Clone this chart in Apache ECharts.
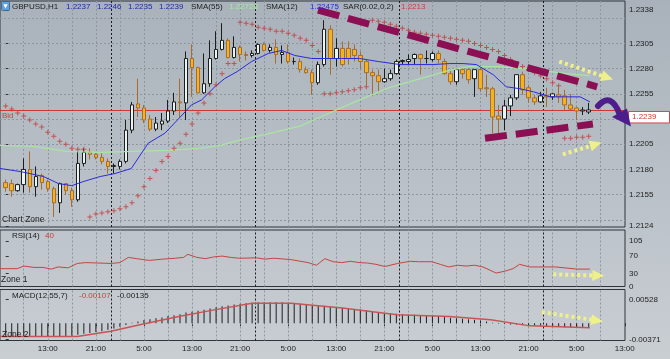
<!DOCTYPE html>
<html><head><meta charset="utf-8">
<script src="https://cdn.jsdelivr.net/npm/echarts@6/dist/echarts.min.js"></script>
<style>html,body{margin:0;padding:0;background:#b9c0c7;}#c{width:670px;height:359px;}</style>
</head><body><div id="c"></div>
<script>
// ---- OHLC (H1 bars, index 0 = 06:00 of day 1) ----
const barOpen = [1.2167,1.2166,1.2159,1.2165,1.2180,1.2163,1.2174,1.2168,1.2161,1.2147,
1.2166,1.2159,1.2150,1.2186,1.2197,1.2195,1.2192,1.2188,1.2183,1.2183,
1.2188,1.2219,1.2245,1.2241,1.2230,1.2220,1.2225,1.2228,1.2238,1.2247,
1.2246,1.2290,1.2281,1.2256,1.2265,1.2290,1.2299,1.2308,1.2291,1.2301,
1.2294,1.2293,1.2295,1.2304,1.2298,1.2301,1.2294,1.2296,1.2287,1.2287,
1.2279,1.2276,1.2266,1.2284,1.2319,1.2290,1.2300,1.2300,1.2299,1.2293,
1.2287,1.2276,1.2273,1.2267,1.2270,1.2275,1.2287,1.2287,1.2290,1.2294,
1.2290,1.2289,1.2295,1.2287,1.2275,1.2267,1.2279,1.2279,1.2270,1.2279,
1.2261,1.2260,1.2233,1.2230,1.2243,1.2251,1.2274,1.2261,1.2251,1.2247,
1.2253,1.2252,1.2254,1.2253,1.2244,1.2241,1.2238,1.2237];
const barHigh = [1.2170,1.2170,1.2166,1.2191,1.2198,1.2183,1.2176,1.2170,1.2163,1.2167,
1.2166,1.2162,1.2198,1.2201,1.2201,1.2196,1.2196,1.2191,1.2186,1.2190,
1.2229,1.2247,1.2270,1.2244,1.2234,1.2232,1.2236,1.2249,1.2256,1.2270,
1.2297,1.2304,1.2282,1.2295,1.2308,1.2317,1.2325,1.2310,1.2312,1.2303,
1.2297,1.2298,1.2305,1.2306,1.2304,1.2309,1.2303,1.2304,1.2291,1.2290,
1.2282,1.2279,1.2287,1.2328,1.2323,1.2310,1.2307,1.2307,1.2304,1.2297,
1.2289,1.2279,1.2279,1.2280,1.2279,1.2289,1.2289,1.2294,1.2295,1.2295,
1.2298,1.2297,1.2298,1.2290,1.2279,1.2280,1.2281,1.2280,1.2279,1.2282,
1.2274,1.2262,1.2244,1.2249,1.2254,1.2274,1.2277,1.2264,1.2254,1.2257,
1.2261,1.2256,1.2261,1.2259,1.2255,1.2242,1.2242,1.2246];
const barLow = [1.2158,1.2153,1.2158,1.2157,1.2157,1.2153,1.2160,1.2158,1.2133,1.2137,
1.2155,1.2143,1.2148,1.2183,1.2190,1.2190,1.2185,1.2176,1.2176,1.2180,
1.2186,1.2216,1.2232,1.2226,1.2218,1.2218,1.2219,1.2226,1.2234,1.2232,
1.2229,1.2252,1.2256,1.2255,1.2262,1.2289,1.2298,1.2290,1.2290,1.2287,
1.2288,1.2291,1.2294,1.2297,1.2296,1.2285,1.2285,1.2285,1.2284,1.2276,
1.2275,1.2254,1.2264,1.2282,1.2274,1.2282,1.2282,1.2284,1.2287,1.2280,
1.2264,1.2253,1.2257,1.2266,1.2268,1.2274,1.2284,1.2284,1.2284,1.2274,
1.2285,1.2287,1.2285,1.2274,1.2264,1.2264,1.2270,1.2265,1.2252,1.2257,
1.2252,1.2216,1.2216,1.2219,1.2233,1.2249,1.2254,1.2246,1.2244,1.2246,
1.2242,1.2249,1.2246,1.2239,1.2239,1.2229,1.2234,1.2235];
const barClose = [1.2162,1.2159,1.2165,1.2180,1.2163,1.2173,1.2167,1.2161,1.2147,1.2166,
1.2159,1.2150,1.2186,1.2197,1.2195,1.2192,1.2188,1.2183,1.2184,1.2188,
1.2219,1.2244,1.2241,1.2229,1.2220,1.2226,1.2228,1.2238,1.2247,1.2246,
1.2290,1.2281,1.2256,1.2265,1.2290,1.2299,1.2308,1.2291,1.2301,1.2294,
1.2293,1.2295,1.2304,1.2298,1.2301,1.2294,1.2296,1.2287,1.2287,1.2279,
1.2276,1.2266,1.2284,1.2319,1.2290,1.2300,1.2284,1.2290,1.2293,1.2287,
1.2276,1.2273,1.2267,1.2270,1.2275,1.2287,1.2288,1.2289,1.2294,1.2290,
1.2290,1.2295,1.2289,1.2275,1.2267,1.2279,1.2275,1.2269,1.2279,1.2260,
1.2260,1.2232,1.2230,1.2243,1.2251,1.2274,1.2259,1.2251,1.2247,1.2253,
1.2252,1.2255,1.2252,1.2244,1.2240,1.2238,1.2239,1.2239];

// ---- indicators: [bar index, value] ----
const sma12 = [[-0.95,1.2181],[2.4,1.2178],[6.3,1.2173],[8.8,1.2166],[11,1.2164],[12.9,1.2168],[15.7,1.2173],[18.2,1.2176],[20.9,1.2181],[23.7,1.2206],[26.5,1.2216],[29.2,1.2233],[30.9,1.2244],[32.6,1.2249],[34.8,1.2262],[36.4,1.2270],[38.5,1.2277],[40.9,1.2287],[43.7,1.2295],[45.9,1.2298],[48.1,1.2293],[50.9,1.2290],[53.1,1.2290],[55.9,1.2290],[58.9,1.2290],[62,1.2287],[65.6,1.2284],[71.1,1.2284],[73.9,1.2285],[76.1,1.2285],[78.3,1.2284],[81.1,1.2274],[83.3,1.2262],[85.6,1.2260],[87.8,1.2257],[90.6,1.2252],[93.4,1.2252],[95.6,1.2252],[97.2,1.2247]];
const sma55 = [[-0.95,1.2204],[4.6,1.2203],[10.1,1.2198],[15.7,1.2197],[21.2,1.2198],[26.8,1.2199],[32.3,1.2201],[35.7,1.2204],[38.9,1.2209],[43.4,1.2215],[49,1.2223],[53.1,1.2234],[58.1,1.2247],[63.7,1.2261],[69,1.2270],[73.6,1.2278],[77,1.2282],[82.2,1.2282],[87.8,1.2279],[93.4,1.2275],[97.2,1.2273]];
const sar = [1.2243,1.2240,1.2236,1.2233,1.2229,1.2225,1.2222,1.2217,1.2213,1.2208,1.2205,1.2201,1.2200,1.2200,
1.2133,1.2136,1.2137,1.2138,1.2139,1.2141,1.2143,1.2147,1.2154,1.2163,1.2171,1.2179,1.2188,1.2193,1.2201,1.2206,1.2215,1.2225,1.2236,1.2246,1.2255,1.2264,1.2275,1.2285,1.2285,
1.2326,1.2325,1.2324,1.2321,1.2320,1.2319,1.2317,1.2317,1.2315,1.2313,1.2310,1.2308,1.2303,1.2297,
1.2255,1.2255,1.2256,1.2257,1.2258,1.2259,1.2261,1.2262,
1.2328,1.2327,1.2326,1.2324,1.2322,1.2320,1.2318,1.2316,1.2315,1.2314,1.2313,1.2312,1.2311,1.2310,1.2309,1.2308,1.2307,1.2305,1.2303,1.2301,1.2299,1.2297,1.2293,1.2289,1.2285,1.2282,1.2279,1.2276,1.2273,1.2270,1.2266,1.2263,
1.2211,1.2211,1.2212,1.2212,1.2213];
const rsi = [[-0.95,41],[1.9,41],[3,47],[4.7,44],[6.2,44],[7.6,40],[8.7,45],[10.4,43],[11.9,53],[13.3,55],[15.4,54],[17.5,53],[19,55],[20.4,67],[21.8,64],[23.9,60],[26.1,63],[28.2,65],[29.6,67],[30.3,74],[31.8,67],[33.2,64],[34.6,68],[36,70],[37.4,67],[38.9,65],[41.7,66],[43.1,63],[44.6,65],[47.4,62],[50.3,55],[51.7,49],[53.1,64],[54.5,57],[55.9,55],[57.4,58],[58.8,55],[60.2,54],[61.6,51],[63.1,46],[65.2,53],[67.3,58],[68.7,57],[70.9,57],[72.3,51],[73.7,45],[75.2,49],[76.6,47],[78,49],[79.4,45],[81.6,31],[83,35],[84.4,41],[85.5,51],[87.2,45],[88.7,45],[90.1,45],[91.5,45],[92.9,43],[95.1,40],[97.2,40]];
const macdHist = [-0.0030,-0.0030,-0.0030,-0.0030,-0.0030,-0.0030,-0.0030,-0.0030,-0.0030,-0.0030,
-0.0029,-0.0028,-0.0026,-0.0024,-0.0022,-0.0020,-0.0018,-0.0015,-0.0012,-0.0008,
-0.0004,0.0001,0.0004,0.0007,0.0009,0.0011,0.0013,0.0016,0.0018,0.0020,
0.0024,0.0026,0.0028,0.0030,0.0033,0.0036,0.0038,0.0040,0.0042,0.0044,
0.0045,0.0046,0.0047,0.0047,0.0047,0.0047,0.0047,0.0046,0.0045,0.0044,
0.0042,0.0040,0.0039,0.0039,0.0037,0.0036,0.0034,0.0033,0.0032,0.0031,
0.0029,0.0027,0.0025,0.0023,0.0022,0.0021,0.0020,0.0019,0.0019,0.0018,
0.0017,0.0017,0.0016,0.0014,0.0012,0.0011,0.0010,0.0009,0.0008,0.0006,
0.0004,0.0001,-0.0001,-0.0002,-0.0003,-0.0003,-0.0004,-0.0005,-0.0006,-0.0006,
-0.0007,-0.0007,-0.0008,-0.0009,-0.0009,-0.0010,-0.0010,-0.0011];
const macdSignal = [[-0.95,-0.0030],[11.9,-0.0030],[17.5,-0.0018],[22.5,-0.0003],[28.8,0.0015],[34.7,0.0030],[41,0.0045],[47.5,0.0045],[56,0.0034],[65.1,0.0019],[73.8,0.0015],[80.7,0.0008],[87.2,-0.0006],[97.2,-0.0010]];
const bidPrice = 1.2239;

// ---- axis ticks / labels ----
const priceLabels = [1.2338,1.2305,1.2280,1.2255,1.2205,1.2180,1.2155,1.2124];
const priceGrid = [1.2330,1.2305,1.2280,1.2255,1.2230,1.2205,1.2180,1.2155,1.2130];
const rsiLabels = [105,70,30,0];
const macdLabels = [0.00528,-0.00371];
const timeTickIdx = [7,15,23,31,39,47,55,63,71,79,87,95,103];
const timeTickLabels = ['13:00','21:00','5:00','13:00','21:00','5:00','13:00','21:00','5:00','13:00','21:00','5:00','13:00'];
const gridIdx = [3,7,11,15,19,23,27,31,35,39,43,47,51,55,59,63,67,71,75,79,83,87,91,95,99];
const daySepIdx = [17.5,41.5,65.5,89.5];

// ---- hand-drawn annotations, in chart coordinates ----
const trendUpper = [[51.96,1.2338],[98.4,1.2262]];
const trendLower = [[79.75,1.2211],[97.7,1.2225]];
const arrowUp = [[92.1,1.2287],[100.1,1.2271]];
const arrowLow = [[92.7,1.2195],[98.2,1.2205]];
const arrowRsi = [[91.1,28],[98.6,25]];
const arrowMacd = [[89.2,0.0025],[98.4,0.0006]];

const FF = "'Liberation Sans', Arial, sans-serif";
const chart = echarts.init(document.getElementById('c'), null, {renderer:'canvas', width:670, height:359});
const X0 = -0.95, X1 = 103.04;
const gridCol = '#8e979f';
const ml = {silent:true, symbol:'none', precision:8, label:{show:false}, animation:false, emphasis:{disabled:true}};
function vLines(){
  return gridIdx.map(v=>({xAxis:v, lineStyle:{color:gridCol, type:[2,2], width:1}}))
    .concat(daySepIdx.map(v=>({xAxis:v, lineStyle:{color:'#1c1c1c', type:[2,2], width:1}})));
}
const axisLbl = {fontSize:8, color:'#1e1e1e', margin:4, fontFamily:FF};
const gridBox = {left:0, width:625, show:true, borderColor:'#2e343a', borderWidth:1, backgroundColor:'transparent'};
const candleData = barOpen.map((o,i)=>[i,o,barClose[i],barLow[i],barHigh[i]]);

const option = {
  animation:false,
  backgroundColor:{type:'linear',x:0,y:0,x2:0,y2:1,colorStops:[{offset:0,color:'#a9b2bb'},{offset:1,color:'#c9ced3'}]},
  grid:[
    Object.assign({top:1, height:226}, gridBox),
    Object.assign({top:230, height:56.5}, gridBox),
    Object.assign({top:289.5, height:51}, gridBox)
  ],
  xAxis:[
    {type:'value', gridIndex:0, min:X0, max:X1, show:false},
    {type:'value', gridIndex:1, min:X0, max:X1, show:false},
    {type:'value', gridIndex:2, min:X0, max:X1, axisLine:{show:false}, splitLine:{show:false},
      axisTick:{show:true, customValues:timeTickIdx, length:3, lineStyle:{color:'#333'}},
      axisLabel:Object.assign({customValues:timeTickIdx, formatter:v=>timeTickLabels[timeTickIdx.indexOf(Math.round(v))]||''}, axisLbl)}
  ],
  yAxis:[
    {type:'value', gridIndex:0, position:'right', min:1.2123, max:1.2347, splitLine:{show:false}, axisLine:{show:false},
      axisTick:{show:true, customValues:priceLabels, length:3, lineStyle:{color:'#333'}},
      axisLabel:Object.assign({customValues:priceLabels, formatter:v=>v.toFixed(4)}, axisLbl)},
    {type:'value', gridIndex:1, position:'right', min:0, max:130, splitLine:{show:false}, axisLine:{show:false},
      axisTick:{show:true, customValues:rsiLabels, length:3, lineStyle:{color:'#333'}},
      axisLabel:Object.assign({customValues:rsiLabels, formatter:v=>String(v)}, axisLbl)},
    {type:'value', gridIndex:2, position:'right', min:-0.00389, max:0.00758, splitLine:{show:false}, axisLine:{show:false},
      axisTick:{show:true, customValues:macdLabels, length:3, lineStyle:{color:'#333'}},
      axisLabel:Object.assign({customValues:macdLabels, formatter:v=>v.toFixed(5)}, axisLbl)}
  ],
  series:[
    {type:'line', xAxisIndex:0, yAxisIndex:0, data:[], markLine:Object.assign({z:1, data:vLines().concat(priceGrid.map(v=>({yAxis:v, lineStyle:{color:gridCol, type:[2,2], width:1}})))}, ml)},
    {type:'line', xAxisIndex:1, yAxisIndex:1, data:[], markLine:Object.assign({z:1, data:vLines()}, ml)},
    {type:'line', xAxisIndex:2, yAxisIndex:2, data:[], markLine:Object.assign({z:1, data:vLines()}, ml)},
    {type:'line', xAxisIndex:0, yAxisIndex:0, data:[], markLine:Object.assign({z:1.5, data:[{yAxis:bidPrice, lineStyle:{color:'#c83a36', type:'solid', width:1}}]}, ml)},
    {type:'candlestick', xAxisIndex:0, yAxisIndex:0, z:2, barWidth:4, data:candleData,
      itemStyle:{color:'#e9f5f4', color0:'#f4b21c', borderColor:'#1d1d1d', borderColor0:'#a86c2e', borderWidth:1}},
    {type:'line', xAxisIndex:0, yAxisIndex:0, z:3, data:sma55, symbol:'none', lineStyle:{color:'#a9e5a2', width:1.3}},
    {type:'line', xAxisIndex:0, yAxisIndex:0, z:3, data:sma12, symbol:'none', lineStyle:{color:'#2b2bdc', width:1}},
    {type:'scatter', xAxisIndex:0, yAxisIndex:0, z:4, data:sar.map((v,i)=>[i,v]),
      symbol:'path://M2,0h1v2h2v1h-2v2h-1v-2h-2v-1h2z', symbolSize:5, itemStyle:{color:'#c53a3a'}},
    {type:'line', xAxisIndex:0, yAxisIndex:0, data:[], markLine:Object.assign({}, ml, {z:6,
      data:[[{coord:trendUpper[0]},{coord:trendUpper[1]}],[{coord:trendLower[0]},{coord:trendLower[1]}]],
      lineStyle:{color:'#8b0f52', width:7, type:[22,9], cap:'butt'}})},
    {type:'line', xAxisIndex:0, yAxisIndex:0, data:[], markLine:Object.assign({}, ml, {z:7, symbol:['none','triangle'], symbolSize:[11,12],
      data:[[{coord:arrowUp[0]},{coord:arrowUp[1]}],[{coord:arrowLow[0]},{coord:arrowLow[1]}]],
      lineStyle:{color:'#eef08a', width:4, type:[3,3]}})},
    {type:'line', xAxisIndex:1, yAxisIndex:1, z:3, data:rsi, symbol:'none', lineStyle:{color:'#c34545', width:1}},
    {type:'line', xAxisIndex:1, yAxisIndex:1, data:[], markLine:Object.assign({}, ml, {z:7, symbol:['none','triangle'], symbolSize:[11,12],
      data:[[{coord:arrowRsi[0]},{coord:arrowRsi[1]}]], lineStyle:{color:'#eef08a', width:4, type:[3,3]}})},
    {type:'bar', xAxisIndex:2, yAxisIndex:2, z:2, data:macdHist.map((v,i)=>[i,v]), barWidth:1, itemStyle:{color:'#1e1e1e'}},
    {type:'line', xAxisIndex:2, yAxisIndex:2, z:3, data:macdSignal, symbol:'none', lineStyle:{color:'#c75555', width:1.5}},
    {type:'line', xAxisIndex:2, yAxisIndex:2, data:[], markLine:Object.assign({}, ml, {z:7, symbol:['none','triangle'], symbolSize:[11,12],
      data:[[{coord:arrowMacd[0]},{coord:arrowMacd[1]}]], lineStyle:{color:'#eef08a', width:4, type:[3,3]}})}
  ]
};
chart.setOption(option);

const yb = chart.convertToPixel({yAxisIndex:0}, bidPrice);
function txt(x, y, s, color, size){
  return {type:'text', x:x, y:y, z:100, silent:true, style:{text:s, fill:color, fontSize:size||8, fontFamily:FF, verticalAlign:'middle'}};
}
const headerTokens = [
  ['GBPUSD,H1',12,'#1c1c1c'],['1.2237',66,'#1a2aa8'],['1.2246',97,'#1a2aa8'],['1.2235',128,'#1a2aa8'],['1.2239',159,'#1a2aa8'],
  ['SMA(55)',191,'#1c1c1c'],['1.22728',229,'#a6e89c'],['SMA(12)',266,'#1c1c1c'],['1.22475',310,'#2a2ae6'],
  ['SAR(0.02,0.2)',343,'#1c1c1c'],['1.2213',401,'#d63a3a']
];
const graphics = [
  {type:'rect', z:100, shape:{x:1.5,y:1.5,width:8,height:9,r:1}, style:{fill:'#62a2da', stroke:'#2f5f8f', lineWidth:0.8}},
  {type:'polygon', z:101, shape:{points:[[3.3,4.3],[7.7,4.3],[5.5,8.6]]}, style:{fill:'#ffffff'}},
  txt(2, yb+5.7, 'Bid', '#c8443f'),
  txt(2, 220, 'Chart Zone', '#1c1c1c', 8.5),
  txt(12, 236, 'RSI(14)', '#1c1c1c'),
  txt(45, 236, '40', '#d03a3a'),
  txt(1, 280, 'Zone 1', '#1c1c1c', 8.5),
  txt(12, 296, 'MACD(12,55,7)', '#1c1c1c'),
  txt(79, 296, '-0.00107', '#d03a3a'),
  txt(117, 296, '-0.00135', '#1c1c1c'),
  txt(2, 335, 'Zone 2', '#1c1c1c', 8.5),
  {type:'rect', z:100, shape:{x:628.5,y:yb+1.5,width:41,height:11.5}, style:{fill:'#ffffff', stroke:'#d04848', lineWidth:1}},
  txt(632, yb+7.3, '1.2239', '#d03a3a'),
  {type:'bezierCurve', z:100, shape:{x1:598, y1:yb-4, cpx1:611, cpy1:yb-19, x2:620, y2:yb+5}, style:{stroke:'#4d1d8c', lineWidth:6, fill:null, lineCap:'round'}},
  {type:'polygon', z:100, shape:{points:[[612,yb+7],[627,yb-1.5],[631,yb+16.5]]}, style:{fill:'#4d1d8c'}}
].concat(headerTokens.map(t=>txt(t[1], 7, t[0], t[2])));
chart.setOption({graphic:graphics});
</script>
</body></html>
